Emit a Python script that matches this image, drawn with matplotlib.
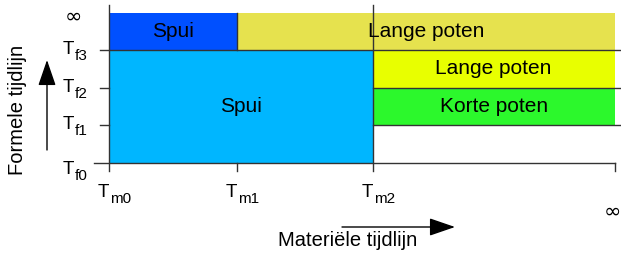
import matplotlib
matplotlib.use("Agg")
import matplotlib.pyplot as plt
from matplotlib.patches import Rectangle

plt.rcParams['font.family'] = ['Liberation Sans', 'DejaVu Sans']

# Time points on both axes (arbitrary units)
tm = [0, 1, 2.06]          # Tm0, Tm1, Tm2
tf = [0, 1, 2, 3]          # Tf0 .. Tf3
x_inf = 3.95
y_inf = 3.98

tm_subs = ['m0', 'm1', 'm2']
tf_subs = ['f0', 'f1', 'f2', 'f3']

# Regions: (label, x0, x1, y0, y1, colour)
regions = [
    ('Spui', tm[0], tm[2], tf[0], tf[3], '#00b6ff'),
    ('Spui', tm[0], tm[1], tf[3], y_inf, '#0050ff'),
    ('Lange poten', tm[1], x_inf, tf[3], y_inf, '#e6e24e'),
    ('Lange poten', tm[2], x_inf, tf[2], tf[3], '#e8ff00'),
    ('Korte poten', tm[2], x_inf, tf[1], tf[2], '#2cf82c'),
]

PX_X = 128.0   # pixels per x unit
PX_Y = 37.67   # pixels per y unit
X0, Y0 = 109, 163  # pixel of origin

fig = plt.figure(figsize=(6.21, 2.54), dpi=100)
ax = fig.add_axes([0, 0, 1, 1])
ax.set_xlim(-X0 / PX_X, (621 - X0) / PX_X)
ax.set_ylim(-(254 - Y0) / PX_Y, Y0 / PX_Y)
ax.axis('off')

def dx(p):
    return p / PX_X

def dy(p):
    return p / PX_Y

def sub_label(x, y, sub, size=13.5, subsize=11):
    # "T" with a subscript, anchored at the end of the T on its baseline
    ax.text(x, y, 'T', ha='right', va='baseline', fontsize=size)
    ax.text(x + dx(1), y - dy(6), sub, ha='left', va='baseline', fontsize=subsize)

for label, x0, x1, y0, y1, col in regions:
    ax.add_patch(Rectangle((x0, y0), x1 - x0, y1 - y0, facecolor=col, edgecolor='none'))
    ax.text((x0 + x1) / 2, (y0 + y1) / 2, label, ha='center', va='center', fontsize=15)

lc = '#333333'
x_right = dx(621 - X0)
x_left_tick = dx(-9)
x_end = dx(615 - X0)
y_top = dy(Y0 - 5)
y_tick = dy(-8)

# horizontal lines
ax.plot([dx(-15), x_end], [tf[0], tf[0]], color=lc, lw=1)
ax.plot([x_left_tick, tm[0]], [tf[1], tf[1]], color=lc, lw=1)
ax.plot([x_left_tick, tm[0]], [tf[2], tf[2]], color=lc, lw=1)
ax.plot([tm[2], x_right], [tf[1], tf[1]], color=lc, lw=1)
ax.plot([tm[2], x_right], [tf[2], tf[2]], color=lc, lw=1)
ax.plot([x_left_tick, x_right], [tf[3], tf[3]], color=lc, lw=1)

# vertical lines
ax.plot([tm[0], tm[0]], [y_tick, y_top], color=lc, lw=1)
ax.plot([tm[2], tm[2]], [y_tick, y_top], color=lc, lw=1)
ax.plot([tm[1], tm[1]], [tf[3], y_inf], color=lc, lw=1)
ax.plot([tm[1], tm[1]], [y_tick, tf[0]], color=lc, lw=1)
ax.plot([x_end, x_end], [y_tick, tf[0]], color=lc, lw=1)

# tick labels
for x, s in zip(tm, tm_subs):
    sub_label(x, dy(-34), s)
for y, s in zip(tf, tf_subs):
    off = -11 if y == tf[0] else -4
    sub_label(dx(-35), y + dy(off), s)
ax.text(dx(-36), dy(Y0 - 17), '∞', family='DejaVu Sans', ha='center', va='center', fontsize=15)
ax.text(dx(612 - X0), dy(Y0 - 212), '∞', family='DejaVu Sans', ha='center', va='center', fontsize=15)

# axis titles and arrows
arrow = dict(arrowstyle='-|>,head_length=1.6,head_width=0.55', color='black', lw=1,
             shrinkA=0, shrinkB=0)
ax.text(dx(-91), dy(Y0 - 110), 'Formele tijdlijn', rotation=90,
        ha='center', va='center', fontsize=14.5)
ax.annotate('', xy=(dx(-62), dy(Y0 - 60)), xytext=(dx(-62), dy(Y0 - 150)), arrowprops=arrow)
ax.text(dx(348 - X0), dy(Y0 - 241), 'Materiële tijdlijn',
        ha='center', va='center', fontsize=14.5)
ax.annotate('', xy=(dx(455 - X0), dy(Y0 - 227)), xytext=(dx(342 - X0), dy(Y0 - 227)),
            arrowprops=arrow)

fig.savefig('out.png', dpi=100)
